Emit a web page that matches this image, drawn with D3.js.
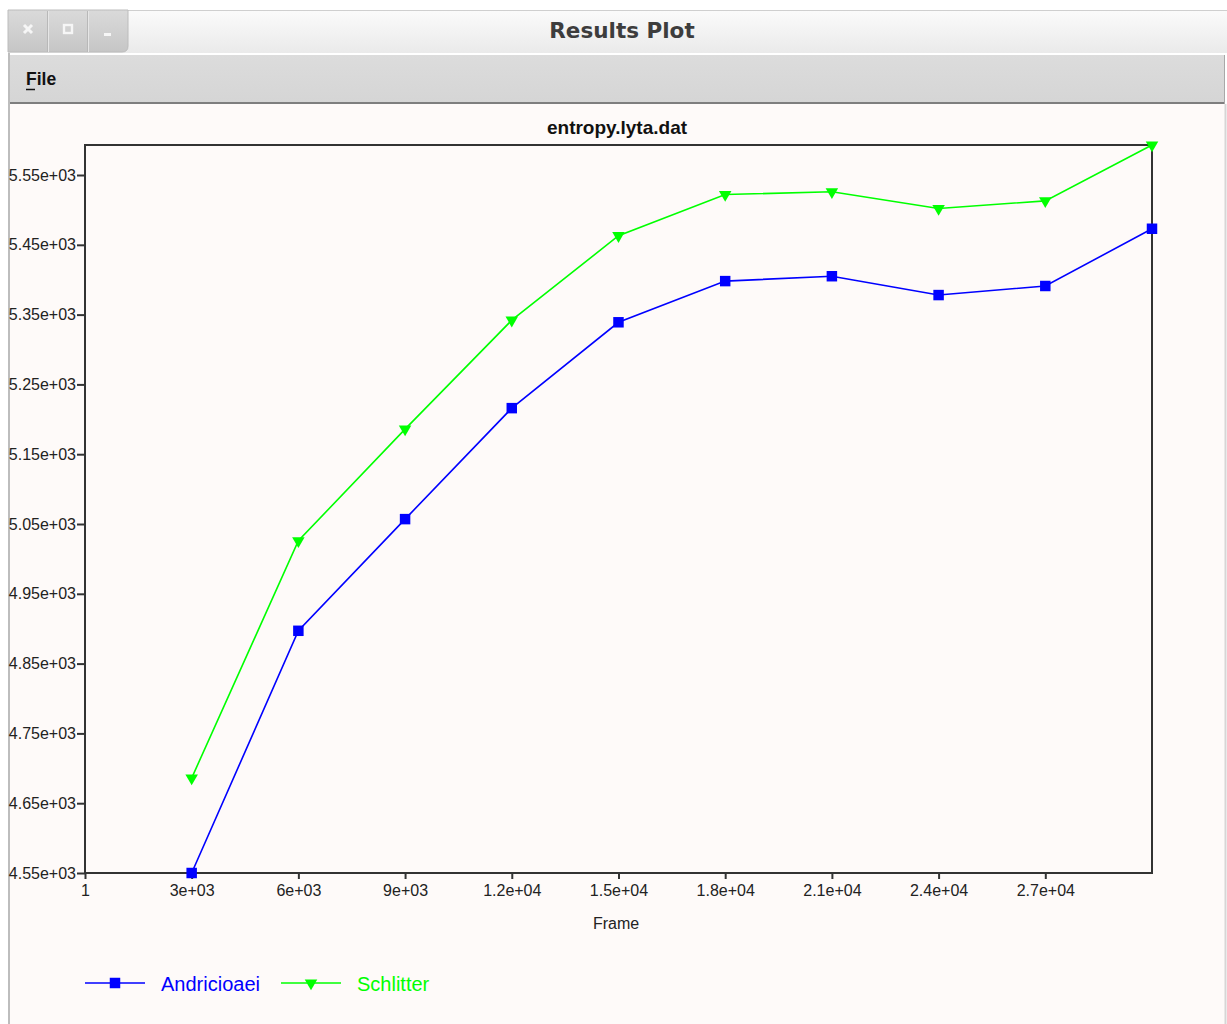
<!DOCTYPE html>
<html>
<head>
<meta charset="utf-8">
<script src="https://cdn.jsdelivr.net/npm/d3@7"></script>
<style>
  html, body { margin: 0; padding: 0; background: #ffffff; }
  svg { display: block; }
</style>
</head>
<body>
<svg id="chart" width="1227" height="1024"></svg>
<script>
// ---- data ----
const frames = [3000, 6000, 9000, 12000, 15000, 18000, 21000, 24000, 27000, 30000];
const andricioaei = [4550, 4897, 5057, 5216, 5339, 5398, 5405, 5378, 5391, 5473];
const schlitter   = [4686, 5026, 5186, 5342, 5463, 5522, 5526, 5502, 5513, 5593];
const seriesNames = ["Andricioaei", "Schlitter"];
const xTicks = [1, 3000, 6000, 9000, 12000, 15000, 18000, 21000, 24000, 27000];
const xTickLabels = ["1", "3e+03", "6e+03", "9e+03", "1.2e+04", "1.5e+04", "1.8e+04", "2.1e+04", "2.4e+04", "2.7e+04"];
const yTicks = [4550, 4650, 4750, 4850, 4950, 5050, 5150, 5250, 5350, 5450, 5550];
const yTickLabels = ["4.55e+03", "4.65e+03", "4.75e+03", "4.85e+03", "4.95e+03", "5.05e+03", "5.15e+03", "5.25e+03", "5.35e+03", "5.45e+03", "5.55e+03"];
const chartTitle = "entropy.lyta.dat";
const windowTitle = "Results Plot";
const xLabel = "Frame";

const svg = d3.select("#chart");
const W = 1227, H = 1024;
const FONT = "'Liberation Sans', Arial, Helvetica, sans-serif";

// ---- window chrome ----
const defs = svg.append("defs");
const g1 = defs.append("linearGradient").attr("id", "titleGrad").attr("x1", 0).attr("y1", 0).attr("x2", 0).attr("y2", 1);
g1.append("stop").attr("offset", "0%").attr("stop-color", "#fbfbfb");
g1.append("stop").attr("offset", "100%").attr("stop-color", "#eaeaea");
const g2 = defs.append("linearGradient").attr("id", "btnGrad").attr("x1", 0).attr("y1", 0).attr("x2", 0).attr("y2", 1);
g2.append("stop").attr("offset", "0%").attr("stop-color", "#dadada");
g2.append("stop").attr("offset", "100%").attr("stop-color", "#c6c6c6");
const g3 = defs.append("linearGradient").attr("id", "menuGrad").attr("x1", 0).attr("y1", 0).attr("x2", 0).attr("y2", 1);
g3.append("stop").attr("offset", "0%").attr("stop-color", "#dcdcdc");
g3.append("stop").attr("offset", "100%").attr("stop-color", "#d5d5d5");

svg.append("rect").attr("x", 0).attr("y", 0).attr("width", W).attr("height", H).attr("fill", "#ffffff");
// title bar
svg.append("rect").attr("x", 8).attr("y", 10).attr("width", W - 8).attr("height", 43).attr("fill", "url(#titleGrad)");
svg.append("line").attr("x1", 8).attr("x2", W).attr("y1", 10.5).attr("y2", 10.5).attr("stroke", "#cfcfcf");
// buttons
svg.append("path")
  .attr("d", "M8,10 H128 V46 Q128,52 122,52 H8 Z")
  .attr("fill", "url(#btnGrad)").attr("stroke", "#bcbcbc");
[48, 88].forEach(x => svg.append("line").attr("x1", x + 0.5).attr("x2", x + 0.5).attr("y1", 11).attr("y2", 52).attr("stroke", "#e6e6e6"));
[47, 87].forEach(x => svg.append("line").attr("x1", x + 0.5).attr("x2", x + 0.5).attr("y1", 11).attr("y2", 52).attr("stroke", "#b8b8b8"));
// close X
svg.append("path").attr("d", "M24,25 L32,33 M32,25 L24,33").attr("stroke", "#f6f6f6").attr("stroke-width", 3);
// maximize
svg.append("rect").attr("x", 64).attr("y", 25).attr("width", 8).attr("height", 8).attr("fill", "none").attr("stroke", "#f6f6f6").attr("stroke-width", 2.4);
// minimize
svg.append("rect").attr("x", 104).attr("y", 33).attr("width", 7).attr("height", 3).attr("fill", "#f6f6f6");
svg.append("text").attr("x", 622).attr("y", 38).attr("text-anchor", "middle")
  .attr("font-family", "'DejaVu Sans', sans-serif").attr("font-weight", "bold").attr("font-size", 21.5)
  .attr("fill", "#3d3d3d").text(windowTitle);

// menu bar
svg.append("rect").attr("x", 10).attr("y", 55).attr("width", W - 12).attr("height", 49).attr("fill", "url(#menuGrad)");
svg.append("line").attr("x1", 10).attr("x2", W - 2).attr("y1", 103).attr("y2", 103).attr("stroke", "#7e7e7e").attr("stroke-width", 2);
svg.append("line").attr("x1", W - 2.5).attr("x2", W - 2.5).attr("y1", 55).attr("y2", 104).attr("stroke", "#a8a8a8");
svg.append("text").attr("x", 26).attr("y", 85).attr("font-family", FONT).attr("font-weight", "bold")
  .attr("font-size", 17.5).attr("fill", "#111").text("File");
svg.append("line").attr("x1", 26).attr("x2", 35).attr("y1", 89.5).attr("y2", 89.5).attr("stroke", "#111").attr("stroke-width", 1.5);

// content area
svg.append("rect").attr("x", 10).attr("y", 104).attr("width", W - 12).attr("height", H - 104).attr("fill", "#fefaf9");
svg.append("line").attr("x1", 9).attr("x2", 9).attr("y1", 53).attr("y2", H).attr("stroke", "#bdbdbd").attr("stroke-width", 2);
svg.append("line").attr("x1", W - 1.5).attr("x2", W - 1.5).attr("y1", 104).attr("y2", H).attr("stroke", "#d6d6d6").attr("stroke-width", 2);

// ---- plot ----
const plotL = 85, plotR = 1152, plotT = 145, plotB = 873;
const x = d3.scaleLinear().domain([1, 30000]).range([plotL, plotR]);
const y = d3.scaleLinear().domain([4550, 5593]).range([plotB, plotT]);

// axes
const yAxis = d3.axisLeft(y).tickValues(yTicks).tickFormat((d, i) => yTickLabels[i]).tickSize(8).tickPadding(1);
const xAxis = d3.axisBottom(x).tickValues(xTicks).tickFormat((d, i) => xTickLabels[i]).tickSize(6).tickPadding(6);

const gy = svg.append("g").attr("transform", `translate(${plotL},0)`).call(yAxis);
const gx = svg.append("g").attr("transform", `translate(0,${plotB})`).call(xAxis);
[gx, gy].forEach(g => {
  g.select(".domain").remove();
  g.selectAll(".tick line").attr("stroke", "#333").attr("stroke-width", 2);
  g.selectAll(".tick text").attr("font-family", FONT).attr("font-size", 16).attr("fill", "#222");
});
// frame box
svg.append("rect").attr("x", plotL).attr("y", plotT).attr("width", plotR - plotL).attr("height", plotB - plotT)
  .attr("fill", "none").attr("stroke", "#333").attr("stroke-width", 2);

// titles
svg.append("text").attr("x", 617).attr("y", 134).attr("text-anchor", "middle")
  .attr("font-family", FONT).attr("font-weight", "bold").attr("font-size", 19).attr("fill", "#111").text(chartTitle);
svg.append("text").attr("x", 616).attr("y", 929).attr("text-anchor", "middle")
  .attr("font-family", FONT).attr("font-size", 16).attr("fill", "#222").text(xLabel);

// series
const colors = ["#0000ff", "#00ff00"];
const seriesData = [andricioaei, schlitter];
const line = d3.line().x(d => x(d[0])).y(d => y(d[1]));
const sq = d3.symbol().type(d3.symbolSquare).size(110);
const tri = d3.symbol().type(d3.symbolTriangle).size(68);

seriesData.forEach((vals, si) => {
  const pts = frames.map((f, i) => [f, vals[i]]);
  svg.append("path").datum(pts).attr("d", line).attr("fill", "none")
    .attr("stroke", colors[si]).attr("stroke-width", 1.6);
  svg.append("g").selectAll("path").data(pts).join("path")
    .attr("transform", d => si === 0 ? `translate(${x(d[0])},${y(d[1])})` : `translate(${x(d[0])},${y(d[1])}) rotate(180)`)
    .attr("d", si === 0 ? sq : tri)
    .attr("fill", colors[si]);
});

// legend
const legX = [85, 281];
seriesNames.forEach((name, si) => {
  const lx = legX[si], ly = 983;
  svg.append("line").attr("x1", lx).attr("x2", lx + 60).attr("y1", ly).attr("y2", ly)
    .attr("stroke", colors[si]).attr("stroke-width", 1.6);
  svg.append("path").attr("d", si === 0 ? sq : tri)
    .attr("transform", si === 0 ? `translate(${lx + 30},${ly})` : `translate(${lx + 30},${ly}) rotate(180)`)
    .attr("fill", colors[si]);
  svg.append("text").attr("x", lx + 76).attr("y", ly + 7.5)
    .attr("font-family", FONT).attr("font-size", 20).attr("fill", colors[si]).text(name);
});
</script>
</body>
</html>
